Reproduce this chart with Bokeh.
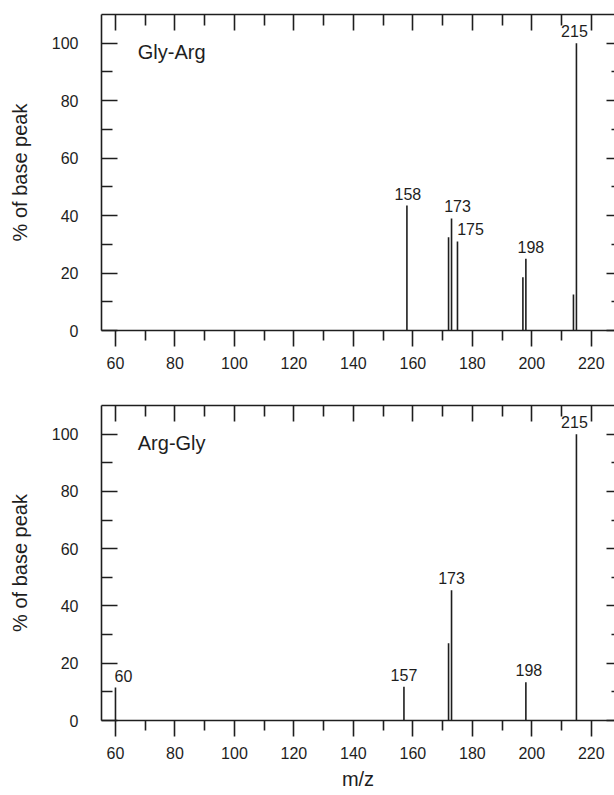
from bokeh.plotting import figure
from bokeh.models import Range1d, FixedTicker, LinearAxis, Label, ColumnDataSource
from bokeh.layouts import column
from bokeh.embed import file_html
from bokeh.resources import INLINE
from bokeh.core.properties import value

# ---------------- data ----------------
gly_arg_mz = [158, 172, 173, 175, 197, 198, 214, 215]
gly_arg_int = [43.5, 32.5, 39.0, 31.0, 18.5, 25.0, 12.5, 100.0]
gly_arg_labels = [158, 173, 175, 198, 215]

arg_gly_mz = [60, 157, 172, 173, 198, 215]
arg_gly_int = [11.5, 11.8, 27.0, 45.5, 13.4, 100.0]
arg_gly_labels = [60, 157, 173, 198, 215]

x_major_ticks = [60, 80, 100, 120, 140, 160, 180, 200, 220]
x_minor_ticks = [70, 90, 110, 130, 150, 170, 190, 210]
y_major_ticks = [0, 20, 40, 60, 80, 100]
y_minor_ticks = [10, 30, 50, 70, 90]

X_TITLE = "m/z"
Y_TITLE = "% of base peak"

# ---------------- style ----------------
FONT = "Liberation Sans"
INK = "#1e1e1e"
LW = 1.6
X0, X1 = 55.3, 227.8
# pixel nudges of the peak labels (layout only)
gly_arg_label_dx = [1, 6, 13, 5, -2]
arg_gly_label_dx = [8, 0, 0, 3, -2]


def make_panel(name, mz, inten, labels, label_dx, height, top_border, bottom_border, xlabel):
    p = figure(width=614, height=height, output_backend="svg", toolbar_location=None,
               x_range=Range1d(X0, X1), y_range=Range1d(0, 110),
               min_border_left=101, min_border_right=0,
               min_border_top=top_border, min_border_bottom=bottom_border,
               x_axis_location=None, y_axis_location=None)
    p.outline_line_color = None
    p.xgrid.visible = False
    p.ygrid.visible = False
    p.background_fill_color = "white"
    p.border_fill_color = "white"

    xt = FixedTicker(ticks=x_major_ticks, minor_ticks=x_minor_ticks)
    yt = FixedTicker(ticks=y_major_ticks, minor_ticks=y_minor_ticks)

    # bottom axis: ticks pointing out
    bottom = LinearAxis(ticker=xt, major_tick_in=0, major_tick_out=16,
                        minor_tick_in=0, minor_tick_out=10,
                        major_label_standoff=10,
                        major_label_text_font=FONT, major_label_text_font_size="16px",
                        major_label_text_color=INK,
                        axis_line_color=INK, axis_line_width=LW,
                        major_tick_line_color=INK, major_tick_line_width=LW,
                        minor_tick_line_color=INK, minor_tick_line_width=LW)
    if xlabel:
        bottom.axis_label = xlabel
        bottom.axis_label_text_font = FONT
        bottom.axis_label_text_font_size = "20px"
        bottom.axis_label_text_font_style = "normal"
        bottom.axis_label_text_color = INK
        bottom.axis_label_standoff = 6
    p.add_layout(bottom, "below")

    # left axis: ticks pointing in
    left = LinearAxis(ticker=yt, major_tick_in=16, major_tick_out=0,
                      minor_tick_in=11, minor_tick_out=0,
                      major_label_standoff=23,
                      major_label_text_font=FONT, major_label_text_font_size="16px",
                      major_label_text_color=INK,
                      axis_label=Y_TITLE, axis_label_text_font=FONT,
                      axis_label_text_font_size="20px", axis_label_text_font_style="normal",
                      axis_label_text_color=INK, axis_label_standoff=18,
                      axis_line_color=INK, axis_line_width=LW,
                      major_tick_line_color=INK, major_tick_line_width=LW,
                      minor_tick_line_color=INK, minor_tick_line_width=LW)
    p.add_layout(left, "left")

    # top axis: ticks pointing in, no labels
    top = LinearAxis(ticker=FixedTicker(ticks=x_major_ticks, minor_ticks=x_minor_ticks),
                     major_tick_in=16, major_tick_out=0, minor_tick_in=11, minor_tick_out=0,
                     major_label_text_font_size="0px", major_label_text_color=None,
                     major_label_standoff=0,
                     axis_line_color=INK, axis_line_width=LW,
                     major_tick_line_color=INK, major_tick_line_width=LW,
                     minor_tick_line_color=INK, minor_tick_line_width=LW)
    p.add_layout(top, "above")

    # right axis: only the inner ends of its ticks are visible
    right = LinearAxis(ticker=FixedTicker(ticks=y_major_ticks, minor_ticks=y_minor_ticks),
                       major_tick_in=8, major_tick_out=0, minor_tick_in=3, minor_tick_out=0,
                       major_label_text_font_size="0px", major_label_text_color=None,
                       major_label_standoff=0,
                       axis_line_color=None,
                       major_tick_line_color=INK, major_tick_line_width=LW,
                       minor_tick_line_color=INK, minor_tick_line_width=LW)
    p.add_layout(right, "right")

    src = ColumnDataSource(dict(mz=mz, zero=[0] * len(mz), inten=inten))
    p.segment(x0="mz", y0="zero", x1="mz", y1="inten", source=src,
              line_color=INK, line_width=LW)

    lookup = dict(zip(mz, inten))
    lsrc = ColumnDataSource(dict(x=labels, y=[lookup[m] for m in labels],
                                 t=[str(m) for m in labels], dx=label_dx))
    p.text(x="x", y="y", text="t", x_offset="dx", y_offset=-12, source=lsrc,
           text_font=value(FONT), text_font_size="16px", text_color=INK,
           text_align="center", text_baseline="alphabetic")

    p.add_layout(Label(x=67.5, y=97.0, text=name, text_font=FONT,
                       text_font_size="20px", text_color=INK,
                       text_align="left", text_baseline="alphabetic"))
    return p


p1 = make_panel("Gly-Arg", gly_arg_mz, gly_arg_int, gly_arg_labels, gly_arg_label_dx,
                height=395, top_border=14, bottom_border=65, xlabel=None)
p2 = make_panel("Arg-Gly", arg_gly_mz, arg_gly_int, arg_gly_labels, arg_gly_label_dx,
                height=400, top_border=10, bottom_border=75, xlabel=X_TITLE)

layout = column(p1, p2, spacing=0)
open("out.html", "w").write(file_html(layout, INLINE))
